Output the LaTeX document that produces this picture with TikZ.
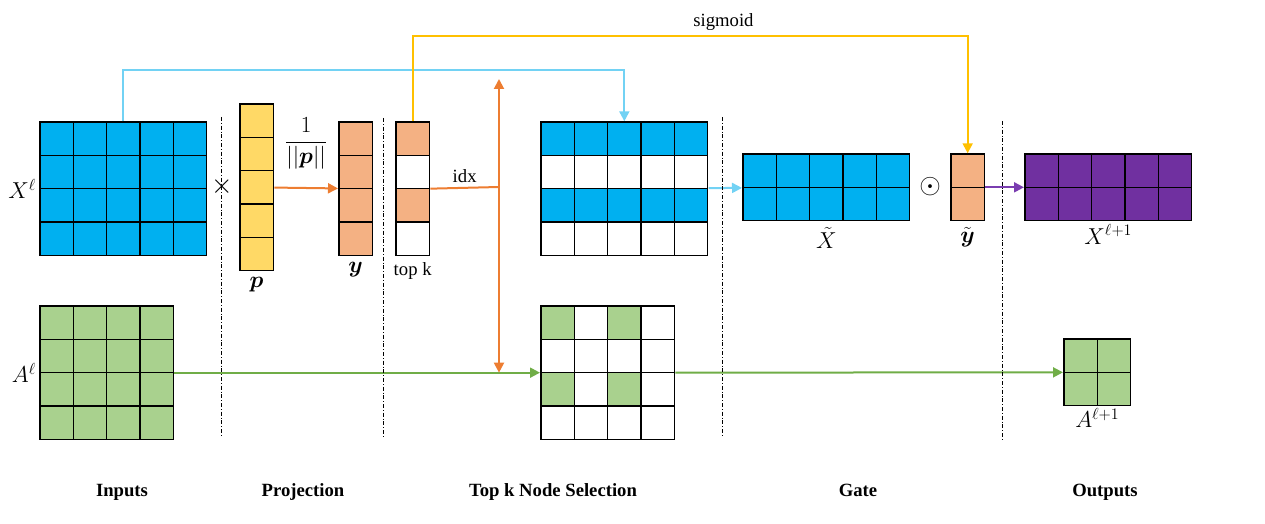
\documentclass[tikz,border=0pt]{standalone}
\usepackage{fontspec}
\setmainfont{Liberation Serif}
\usepackage{amsmath}
\usetikzlibrary{positioning,matrix,arrows.meta}

\definecolor{cellblue}{HTML}{00B0F0}
\definecolor{cellgreen}{HTML}{A9D18E}
\definecolor{cellorange}{HTML}{F4B183}
\definecolor{cellyellow}{HTML}{FFD966}
\definecolor{cellpurple}{HTML}{7030A0}
\definecolor{linecyan}{HTML}{72D2F4}
\definecolor{lineorange}{HTML}{ED7D31}
\definecolor{lineyellow}{HTML}{FFC000}
\definecolor{linegreen}{HTML}{70AD47}
\definecolor{linepurple}{HTML}{7A3DB0}

\begin{document}
\begin{tikzpicture}[
  x=0.75pt, y=-0.75pt,
  font=\fontsize{14}{16}\selectfont,
  cell/.style={draw, line width=1.1pt, minimum size=25pt, inner sep=0pt},
  grid/.style={matrix of nodes, nodes in empty cells, anchor=north west, inner sep=0pt,
    column sep=-1.1pt, row sep=-1.1pt, nodes={cell, fill=#1}},
  grid/.default=white,
  link/.style={line width=1.5pt},
  conn/.style={link, -{Triangle[length=7.5pt, width=7.5pt]}},
  sepline/.style={line width=0.5pt, dash pattern=on 3pt off 1.5pt on 0.5pt off 1.5pt},
  lab/.style={font=\fontsize{18}{20}\selectfont, inner sep=1pt, text=black},
  stage/.style={font=\fontsize{14}{16}\selectfont\bfseries, anchor=base}
]
\useasboundingbox (0,0) rectangle (1265,524);

% inputs
\matrix (xin) [grid=cellblue] at (39,121) {
  & & & & \\ & & & & \\ & & & & \\ & & & & \\};
\matrix (ain) [grid=cellgreen] at (39,305) {
  & & & \\ & & & \\ & & & \\ & & & \\};
\node[lab, left=1pt of xin] (xinlab) {$X^{\ell}$};
\node[lab, left=1pt of ain] (ainlab) {$A^{\ell}$};
\node[font=\huge] (times) at (222,187) {$\times$};

% projection
\matrix (p) [grid=cellyellow] at (239,103) {
  \\ \\ \\ \\ \\};
\matrix (y) [grid=cellorange] at (338,121) {
  \\ \\ \\ \\};
\node[lab, below=3pt of p] (plab) {$\boldsymbol{p}$};
\node[lab, below=3pt of y] (ylab) {$\boldsymbol{y}$};

% top k node selection
\matrix (topk) [grid, row 1/.style={nodes={fill=cellorange}}, row 3/.style={nodes={fill=cellorange}}] at (395,121) {
  \\ \\ \\ \\};
\node[below=1pt of topk] (topklab) {top k};
\matrix (xsel) [grid, row 1/.style={nodes={fill=cellblue}}, row 3/.style={nodes={fill=cellblue}}] at (540,121) {
  & & & & \\ & & & & \\ & & & & \\ & & & & \\};
\matrix (asel) [grid,
  row 1 column 1/.style={nodes={fill=cellgreen}}, row 1 column 3/.style={nodes={fill=cellgreen}},
  row 3 column 1/.style={nodes={fill=cellgreen}}, row 3 column 3/.style={nodes={fill=cellgreen}}] at (540,305) {
  & & & \\ & & & \\ & & & \\ & & & \\};
\coordinate (split) at (499,187);

% gate
\matrix (xt) [grid=cellblue] at (742,153) {
  & & & & \\ & & & & \\};
\matrix (yt) [grid=cellorange] at (950,153) {
  \\ \\};
\node[font=\huge] (odot) at (930,187) {$\odot$};
\node[lab, below=3pt of xt] (xtlab) {$\tilde{X}$};
\node[lab, below=3pt of yt] (ytlab) {$\tilde{\boldsymbol{y}}$};

% outputs
\matrix (xout) [grid=cellpurple] at (1024,153) {
  & & & & \\ & & & & \\};
\matrix (aout) [grid=cellgreen] at (1063,338) {
  & \\ & \\};
\node[lab, below=1pt of xout] (xoutlab) {$X^{\ell+1}$};
\node[lab, below=0pt of aout] (aoutlab) {$A^{\ell+1}$};

% connectors
\draw[conn, linecyan] (xin-1-3.north) -- ++(0,-51) -| (xsel-1-3.north);
\draw[conn, lineyellow] (topk-1-1.north) -- ++(0,-85) -| node[pos=0.28, above, text=black] {sigmoid} (yt-1-1.north);
\draw[conn, lineorange] (p) -- node[lab, above=12pt] {$\dfrac{1}{||\boldsymbol{p}||}$} (y);
\draw[conn, linegreen] (ain) -- (asel);
\draw[conn, linegreen] (asel) -- (aout);
\draw[link, lineorange] (topk.east) -- node[above, text=black] {idx} (split);
\draw[conn, lineorange] (split) -- ++(0,-108);
\draw[conn, lineorange] (split) -- (split |- asel.west);
\draw[conn, linecyan] (xsel) -- (xt);
\draw[conn, linepurple] (yt) -- (xout);

% separators
\foreach \sx/\sy/\ey in {221/117/437, 383/118/437, 722/117/436, 1002/121/440}
  \draw[sepline] (\sx,\sy) -- (\sx,\ey);

% stage titles
\node[stage] (st1) at (122,496) {Inputs};
\node[stage] (st2) at (303,496) {Projection};
\node[stage] (st3) at (553,496) {Top k Node Selection};
\node[stage] (st4) at (858,496) {Gate};
\node[stage] (st5) at (1105,496) {Outputs};
\end{tikzpicture}
\end{document}
